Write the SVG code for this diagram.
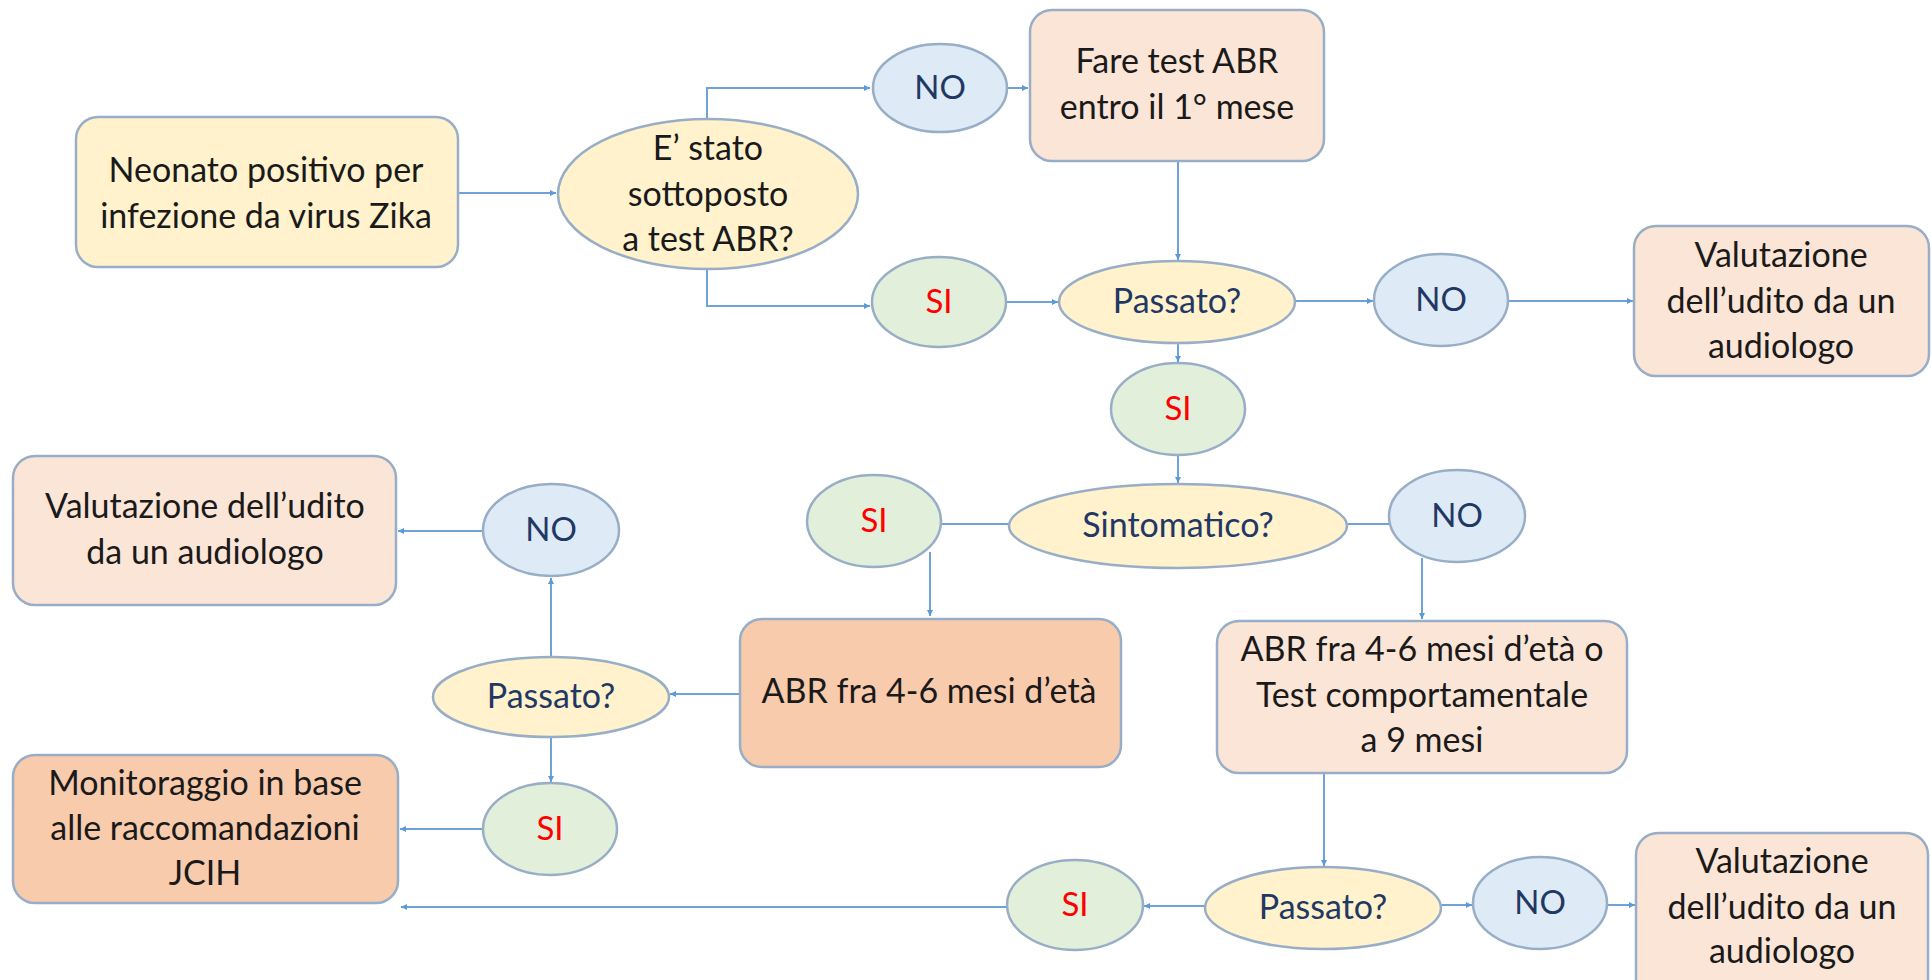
<svg xmlns="http://www.w3.org/2000/svg" width="1931" height="980" viewBox="0 0 1931 980">
<style>
text{font-family:Lato,"Liberation Sans",sans-serif;font-size:34px;text-anchor:middle}
.t{fill:#1a1a1a}
.q{fill:#1F3864}
.no{fill:#1F3864;font-size:33px}
.si{fill:#FF0000;font-size:33px}
.box{stroke:#98AEC6;stroke-width:2.5}
.y{fill:#FFF2CC}
.p{fill:#FBE5D6}
.o{fill:#F8CBAD}
.b{fill:#DEEBF7;stroke:#98AEC6;stroke-width:2.5}
.g{fill:#E2EFDA;stroke:#98AEC6;stroke-width:2.5}
.c{fill:none;stroke:#6FA3D8;stroke-width:2}
</style>
<defs>
<marker id="a" viewBox="0 0 10 10" refX="10" refY="5" markerWidth="6" markerHeight="6" orient="auto" markerUnits="userSpaceOnUse">
<path d="M0,0L10,5L0,10z" fill="#5B9BD5"/>
</marker>
</defs>
<rect width="1931" height="980" fill="#fff"/>
<g id="connectors">
<path class="c" d="M458,193H556" stroke-width="4" marker-end="url(#a)"/>
<path class="c" d="M707,118V88H870" marker-end="url(#a)"/>
<path class="c" d="M707,269V306H870" marker-end="url(#a)"/>
<path class="c" d="M1008,88H1028" marker-end="url(#a)"/>
<path class="c" d="M1178,161V260" marker-end="url(#a)"/>
<path class="c" d="M1006,302H1058" marker-end="url(#a)"/>
<path class="c" d="M1295,301H1373" marker-end="url(#a)"/>
<path class="c" d="M1508,301H1633" marker-end="url(#a)"/>
<path class="c" d="M1178,343V362" marker-end="url(#a)"/>
<path class="c" d="M1178,455V483" marker-end="url(#a)"/>
<path class="c" d="M942,524H1009"/>
<path class="c" d="M1348,524H1389"/>
<path class="c" d="M930,552V616" marker-end="url(#a)"/>
<path class="c" d="M1422,558V619" marker-end="url(#a)"/>
<path class="c" d="M483,531H398" marker-end="url(#a)"/>
<path class="c" d="M551,658V578" marker-end="url(#a)"/>
<path class="c" d="M740,694H670" marker-end="url(#a)"/>
<path class="c" d="M551,737V782" marker-end="url(#a)"/>
<path class="c" d="M483,829H400" marker-end="url(#a)"/>
<path class="c" d="M1324,773V866" marker-end="url(#a)"/>
<path class="c" d="M1205,906H1144" marker-end="url(#a)"/>
<path class="c" d="M1007,907H401" marker-end="url(#a)"/>
<path class="c" d="M1440,905H1472" marker-end="url(#a)"/>
<path class="c" d="M1607,905H1635" marker-end="url(#a)"/>
</g>
<g id="n1"><rect class="box y" x="76" y="117" width="382" height="150" rx="22"/><text class="t" x="266" y="182">Neonato positivo per</text><text class="t" x="266" y="228">infezione da virus Zika</text></g>
<g id="d1"><ellipse class="box y" cx="708" cy="194" rx="150" ry="75"/><text class="t" x="708" y="160">E’ stato</text><text class="t" x="708" y="206">sottoposto</text><text class="t" x="708" y="251">a test ABR?</text></g>
<g id="no1"><ellipse class="b" cx="940" cy="88" rx="67" ry="44"/><text class="no" x="940" y="99">NO</text></g>
<g id="n2"><rect class="box p" x="1030" y="10" width="294" height="151" rx="22"/><text class="t" x="1177" y="73">Fare test ABR</text><text class="t" x="1177" y="119">entro il 1° mese</text></g>
<g id="si1"><ellipse class="g" cx="939" cy="302" rx="67" ry="45"/><text class="si" x="939" y="313">SI</text></g>
<g id="d2"><ellipse class="box y" cx="1177" cy="302" rx="118" ry="41"/><text class="q" x="1177" y="313">Passato?</text></g>
<g id="no2"><ellipse class="b" cx="1441" cy="300" rx="67" ry="46"/><text class="no" x="1441" y="311">NO</text></g>
<g id="n3"><rect class="box p" x="1634" y="226" width="295" height="150" rx="22"/><text class="t" x="1781" y="267">Valutazione</text><text class="t" x="1781" y="313">dell’udito da un</text><text class="t" x="1781" y="358">audiologo</text></g>
<g id="si2"><ellipse class="g" cx="1178" cy="409" rx="67" ry="46"/><text class="si" x="1178" y="420">SI</text></g>
<g id="d3"><ellipse class="box y" cx="1178" cy="526" rx="169" ry="42"/><text class="q" x="1178" y="537">Sintomatico?</text></g>
<g id="si3"><ellipse class="g" cx="874" cy="521" rx="67" ry="46"/><text class="si" x="874" y="532">SI</text></g>
<g id="no3"><ellipse class="b" cx="1457" cy="516" rx="68" ry="46"/><text class="no" x="1457" y="527">NO</text></g>
<g id="n4"><rect class="box p" x="13" y="456" width="383" height="149" rx="22"/><text class="t" x="205" y="518">Valutazione dell’udito</text><text class="t" x="205" y="564">da un audiologo</text></g>
<g id="no4"><ellipse class="b" cx="551" cy="530" rx="68" ry="46"/><text class="no" x="551" y="541">NO</text></g>
<g id="d4"><ellipse class="box y" cx="551" cy="697" rx="118" ry="40"/><text class="q" x="551" y="708">Passato?</text></g>
<g id="n5"><rect class="box o" x="740" y="619" width="381" height="148" rx="22"/><text class="t" x="929" y="703">ABR fra 4-6 mesi d’età</text></g>
<g id="n6"><rect class="box p" x="1217" y="621" width="410" height="152" rx="22"/><text class="t" x="1422" y="661">ABR fra 4-6 mesi d’età o</text><text class="t" x="1422" y="707">Test comportamentale</text><text class="t" x="1422" y="752">a 9 mesi</text></g>
<g id="si4"><ellipse class="g" cx="550" cy="829" rx="67" ry="46"/><text class="si" x="550" y="840">SI</text></g>
<g id="n7"><rect class="box o" x="13" y="755" width="385" height="148" rx="22"/><text class="t" x="205" y="795">Monitoraggio in base</text><text class="t" x="205" y="840">alle raccomandazioni</text><text class="t" x="205" y="885">JCIH</text></g>
<g id="si5"><ellipse class="g" cx="1075" cy="905" rx="68" ry="45"/><text class="si" x="1075" y="916">SI</text></g>
<g id="d5"><ellipse class="box y" cx="1323" cy="908" rx="118" ry="41"/><text class="q" x="1323" y="919">Passato?</text></g>
<g id="no5"><ellipse class="b" cx="1540" cy="903" rx="67" ry="46"/><text class="no" x="1540" y="914">NO</text></g>
<g id="n8"><rect class="box p" x="1636" y="833" width="292" height="170" rx="22"/><text class="t" x="1782" y="873">Valutazione</text><text class="t" x="1782" y="919">dell’udito da un</text><text class="t" x="1782" y="963">audiologo</text></g>
</svg>
